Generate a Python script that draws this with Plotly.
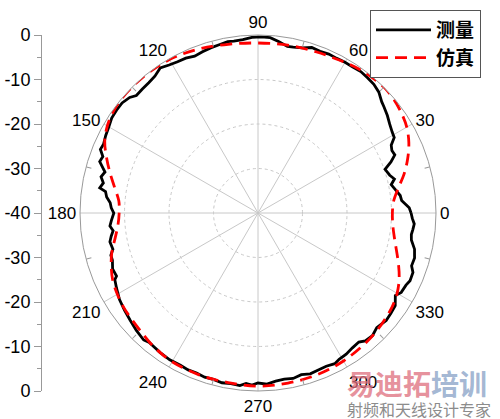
import plotly.graph_objects as go

# measured pattern (deg, dB)
ANGLES_MEAS = [0, 2, 5, 7, 10, 12, 14, 16, 19, 21, 23, 25, 27, 29, 31, 34, 37, 40, 42, 45,
               48, 51, 54, 57, 60, 63, 66, 69, 72, 75, 78, 80, 83, 86, 89, 92, 95, 98, 100, 103,
               106, 109, 112, 115, 118, 121, 124, 127, 130, 133, 136, 138, 141, 144, 147, 150, 153, 156, 158, 160,
               162, 165, 167, 169, 171, 172, 174, 176, 178, 180, 183, 185, 187, 189, 191, 194, 196, 198, 201, 204,
               205, 208, 212, 216, 220, 224, 228, 230, 232, 235, 239, 243, 246, 249, 252, 255, 258, 261, 264, 266,
               268, 270, 273, 276, 279, 282, 285, 288, 291, 294, 297, 299, 302, 305, 308, 310, 313, 316, 318, 320,
               323, 326, 329, 331, 334, 336, 339, 341, 344, 347, 350, 352, 354, 356, 358, 360]
GAIN_MEAS = [-5.6, -6.0, -7.6, -7.8, -8.8, -9.4, -8.4, -9.2, -9.8, -8.0, -6.6, -6.8, -6.4, -5.0, -4.8, -4.3, -3.6, -3.0, -2.6, -1.6,
             -1.1, -0.9, -0.7, -0.9, -0.9, -1.0, -0.9, -1.1, -0.9, -1.6, -1.9, -2.0, -1.2, -0.5, -0.4, -0.5, -0.9, -1.0, -0.9, -1.2,
             -1.4, -1.7, -2.0, -1.6, -1.5, -1.2, -0.7, -1.5, -1.8, -1.9, -2.0, -1.2, -0.7, -0.7, -0.8, -1.3, -1.6, -2.0, -1.8, -2.9,
             -2.6, -4.4, -3.8, -4.6, -4.0, -5.4, -5.8, -6.7, -7.0, -7.6, -7.0, -6.6, -7.2, -6.6, -6.1, -6.4, -5.6, -5.6, -5.0, -5.2,
             -4.5, -4.0, -3.3, -2.9, -2.5, -2.0, -1.6, -2.0, -1.9, -1.7, -1.5, -1.6, -1.4, -1.5, -1.2, -1.3, -1.0, -1.2, -1.0, -1.6,
             -1.3, -1.8, -1.5, -2.0, -2.2, -2.0, -2.4, -2.0, -2.2, -2.3, -2.0, -2.4, -2.6, -3.0, -3.2, -2.5, -2.3, -2.9, -2.7, -2.4,
             -2.6, -2.8, -4.0, -3.2, -3.0, -2.6, -2.7, -3.5, -3.4, -3.9, -5.0, -5.2, -5.0, -4.8, -5.3, -5.6]

# simulated pattern (deg, dB)
ANGLES_SIM = [0, 5, 10, 15, 20, 25, 30, 35, 40, 45, 50, 55, 60, 65, 70, 80, 90, 100, 110, 120,
              130, 140, 145, 150, 155, 160, 165, 170, 175, 180, 185, 190, 195, 200, 205, 210, 215, 220, 225, 230,
              235, 240, 250, 260, 270, 280, 290, 300, 310, 315, 320, 325, 330, 335, 340, 345, 350, 355, 360]
GAIN_SIM = [-9.8, -9.4, -8.0, -6.0, -4.2, -2.6, -1.4, -0.7, -0.2, 0.0, -0.2, -0.5, -0.9, -1.3, -1.5, -1.7, -1.8, -1.5, -0.8, -0.2,
            0.0, 0.0, -0.3, -0.9, -2.0, -3.8, -5.6, -7.3, -8.6, -8.8, -8.4, -7.4, -6.0, -4.9, -4.0, -3.5, -3.1, -2.9, -2.6, -2.1,
            -1.7, -1.4, -1.3, -1.3, -1.1, -1.2, -1.3, -1.6, -2.1, -2.4, -2.8, -3.2, -3.9, -5.0, -6.4, -7.8, -8.9, -9.6, -9.8]

ANGLE_TICKS = list(range(0, 360, 30))
ANGLE_MINOR = list(range(15, 360, 30))
RADIAL_GRID = [-30, -20, -10]
# left ruler: 0 at top, -40 at centre, 0 at bottom
RULER_VALS = [0, 10, 20, 30, 40, 50, 60, 70, 80]
RULER_TEXT = ["0", "-10", "-20", "-30", "-40", "-30", "-20", "-10", "0"]

FONT = "Arial, Liberation Sans, sans-serif"
CJK = "Noto Sans CJK SC"
W, H = 500, 419


def fx(px):
    return px / W


def fy(px):
    return 1 - px / H


dom_x = [fx(80), fx(436)]
dom_y = [fy(391), fy(35)]

fig = go.Figure()
fig.add_trace(go.Scatterpolar(
    r=GAIN_MEAS, theta=ANGLES_MEAS, name="测量", mode="lines",
    line=dict(color="black", width=2.8),
))
fig.add_trace(go.Scatterpolar(
    r=GAIN_SIM, theta=ANGLES_SIM, name="仿真", mode="lines",
    line=dict(color="#ff0000", width=2.8, dash="12px,7px", shape="spline", smoothing=1),
))
# overlay subplot only for the 15-degree minor ticks
fig.add_trace(go.Scatterpolar(r=[], theta=[], subplot="polar2", showlegend=False, hoverinfo="skip"))
# dummy trace so the left ruler axis is drawn
fig.add_trace(go.Scatter(x=[0], y=[0], mode="none", showlegend=False, hoverinfo="skip"))

fig.update_layout(
    template="none",
    width=W, height=H,
    margin=dict(l=0, r=0, t=0, b=0, autoexpand=False),
    paper_bgcolor="white", plot_bgcolor="rgba(0,0,0,0)",
    font=dict(family=FONT, size=17, color="black"),
    polar=dict(
        domain=dict(x=dom_x, y=dom_y),
        bgcolor="white",
        radialaxis=dict(range=[-40, 0], tickvals=RADIAL_GRID, showticklabels=False, ticks="",
                        showline=False, gridcolor="#c8c8c8", griddash="dot", gridwidth=1),
        angularaxis=dict(rotation=0, direction="counterclockwise", tickvals=ANGLE_TICKS,
                         ticks="", showline=True, linecolor="#999999", linewidth=1,
                         gridcolor="#c8c8c8", gridwidth=1,
                         tickfont=dict(family=FONT, size=17, color="black")),
    ),
    polar2=dict(
        domain=dict(x=dom_x, y=dom_y),
        bgcolor="rgba(0,0,0,0)",
        radialaxis=dict(visible=False, range=[-40, 0]),
        angularaxis=dict(rotation=0, direction="counterclockwise", tickvals=ANGLE_MINOR,
                         ticktext=[""] * len(ANGLE_MINOR), ticks="inside", ticklen=5,
                         tickcolor="#999999", showgrid=False, showline=False),
    ),
    xaxis=dict(domain=[fx(42), fx(60)], visible=False, range=[0, 1]),
    yaxis=dict(domain=dom_y, range=[0, 80], tickvals=RULER_VALS, ticktext=RULER_TEXT,
               automargin=False,
               ticks="outside", ticklen=7, tickcolor="#999999", showline=True,
               linecolor="#999999", linewidth=1, showgrid=False, zeroline=False,
               tickfont=dict(family=FONT, size=18, color="black"),
               minor=dict(dtick=5, ticks="outside", ticklen=4, tickcolor="#999999", showgrid=False)),
    legend=dict(x=fx(370), y=fy(10), xanchor="left", yanchor="top",
                bgcolor="white", bordercolor="#555555", borderwidth=1,
                itemwidth=55,
                font=dict(family=CJK, size=19, color="black", weight="bold")),
    annotations=[
        dict(text="<span style='color:rgba(222,110,125,0.75)'>易迪拓</span>"
                  "<span style='color:rgba(140,165,200,0.8)'>培训</span>",
             x=fx(345), y=fy(361), xref="paper", yref="paper",
             xanchor="left", yanchor="top", showarrow=False,
             font=dict(family=CJK, size=28, weight="bold")),
        dict(text="射频和天线设计专家", x=fx(345), y=fy(395), xref="paper", yref="paper",
             xanchor="left", yanchor="top", showarrow=False,
             font=dict(family=CJK, size=16, color="#8c8c8c")),
    ],
)

# drop the default 8px page margin so the figure fills the window from its corner
fig.write_html("out.html", config={"displayModeBar": False},
               post_script="document.body.style.margin='0px';")
